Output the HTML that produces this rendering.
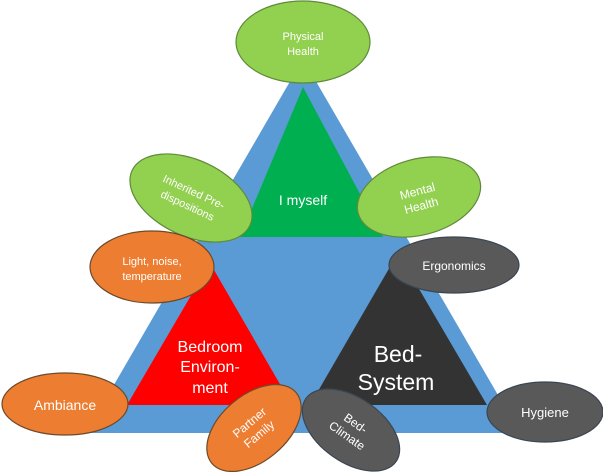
<!DOCTYPE html>
<html><head><meta charset="utf-8"><style>
html,body{margin:0;padding:0;background:#fff;}
svg{display:block;font-family:"Liberation Sans",sans-serif;}
text{fill:#fff;text-anchor:middle;}
</style></head><body>
<svg width="603" height="472" viewBox="0 0 603 472">
<polygon points="303,59 86,433 520,433" fill="#5b9bd5"/>
<polygon points="303,87 240,237 383,237" fill="#00b050"/>
<polygon points="210,263 127,405 292,405" fill="#ff0000"/>
<polygon points="398,253 310,405 487,405" fill="#333333"/>
<g stroke="#5f8a3a" stroke-width="1.2">
<ellipse cx="303" cy="42" rx="67" ry="41" fill="#92d050"/>
<ellipse cx="191" cy="198" rx="65" ry="38" fill="#92d050" transform="rotate(25 191 198)"/>
<ellipse cx="419" cy="197" rx="63" ry="38" fill="#92d050" transform="rotate(-15 419 197)"/>
</g>
<g stroke="#6b4a2a" stroke-width="1.2" fill="#ed7d31">
<ellipse cx="152" cy="267" rx="62" ry="36"/>
<ellipse cx="65" cy="404" rx="63" ry="31"/>
<ellipse cx="254" cy="428" rx="55" ry="33" transform="rotate(-40 254 428)"/>
</g>
<g stroke="#3a4652" stroke-width="1.2" fill="#595959">
<ellipse cx="351" cy="430" rx="55" ry="32" transform="rotate(35 351 430)"/>
<ellipse cx="454" cy="265" rx="65" ry="28"/>
<ellipse cx="545" cy="412" rx="58" ry="30"/>
</g>
<text x="303" y="40" font-size="11">Physical</text>
<text x="303" y="55" font-size="11">Health</text>
<text x="303" y="205" font-size="14">I myself</text>
<g transform="rotate(25 191 198)"><text x="191" y="195" font-size="11">Inherited Pre-</text><text x="191" y="210" font-size="11">dispositions</text></g>
<g transform="rotate(-15 419 197)"><text x="419" y="195" font-size="12">Mental</text><text x="419" y="210" font-size="12">Health</text></g>
<text x="152" y="265" font-size="11">Light, noise,</text>
<text x="152" y="280" font-size="11">temperature</text>
<text x="65" y="410" font-size="14">Ambiance</text>
<g transform="rotate(-40 254 428)"><text x="254" y="425" font-size="12">Partner</text><text x="254" y="440" font-size="12">Family</text></g>
<g transform="rotate(35 351 430)"><text x="351" y="426" font-size="12">Bed-</text><text x="351" y="441" font-size="12">Climate</text></g>
<text x="454" y="270" font-size="12">Ergonomics</text>
<text x="545" y="417" font-size="13">Hygiene</text>
<text x="210" y="352" font-size="16">Bedroom</text>
<text x="210" y="372" font-size="16">Environ-</text>
<text x="210" y="393" font-size="16">ment</text>
<text x="398" y="362" font-size="23">Bed-</text>
<text x="396" y="390" font-size="23">System</text>
</svg>
</body></html>
